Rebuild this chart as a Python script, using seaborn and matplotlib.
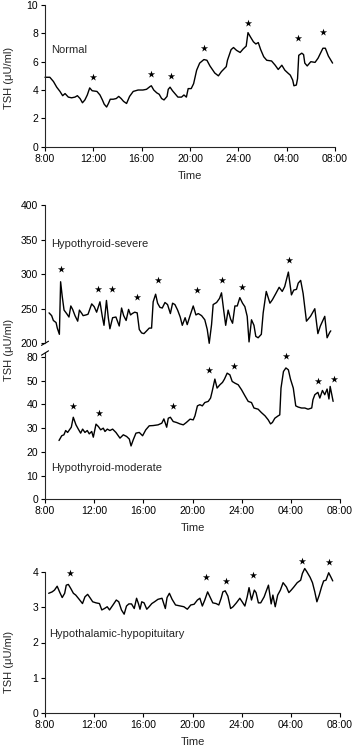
import seaborn as sns
import matplotlib.pyplot as plt
import numpy as np

sns.set_style("ticks")
plt.rcParams['font.family'] = ['Liberation Sans', 'DejaVu Sans']
plt.rcParams['axes.linewidth'] = 0.8
plt.rcParams['xtick.major.width'] = 0.8
plt.rcParams['ytick.major.width'] = 0.8
plt.rcParams['xtick.major.size'] = 3
plt.rcParams['ytick.major.size'] = 3

# hours after 8:00
time_ticks = [0, 4, 8, 12, 16, 20, 24]
time_labels = ["8:00", "12:00", "16:00", "20:00", "24:00", "04:00", "08:00"]

# Normal
normal_t = [0, 0.4, 0.7, 0.97, 1.24, 1.46, 1.66, 1.93, 2.2, 2.48, 2.68, 2.9, 3.1, 3.3, 3.5, 3.7,
            3.9, 4.3, 4.55, 4.75, 4.9, 5.1, 5.25, 5.4, 5.65, 5.9, 6.1, 6.3, 6.5, 6.75, 7.0, 7.3,
            7.7, 8.1, 8.4, 8.7, 8.8, 9.0, 9.25, 9.45, 9.65, 9.85, 10.1, 10.2, 10.35, 10.55, 10.75,
            11.0, 11.3, 11.5, 11.7, 11.85, 12.1, 12.3, 12.55, 12.8, 13.15, 13.4, 13.65, 14.05,
            14.35, 14.6, 15.0, 15.1, 15.4, 15.6, 15.85, 16.15, 16.4, 16.65, 16.8, 17.0, 17.25,
            17.45, 17.65, 17.85, 18.1, 18.35, 18.75, 19.05, 19.3, 19.6, 19.85, 20.1, 20.3, 20.5,
            20.6, 20.8, 20.9, 21.0, 21.25, 21.4, 21.5, 21.7, 22.0, 22.35, 22.6, 23.0, 23.2,
            23.45, 23.8]
normal_tsh = [4.9, 4.9, 4.6, 4.2, 3.9, 3.6, 3.75, 3.5, 3.45, 3.5, 3.6, 3.4, 3.1, 3.3, 3.65, 4.15,
              3.95, 3.9, 3.65, 3.3, 3.0, 2.8, 3.05, 3.35, 3.35, 3.4, 3.55, 3.4, 3.2, 3.05, 3.55, 3.9,
              4.0, 4.0, 4.05, 4.25, 4.3, 4.0, 3.8, 3.7, 3.4, 3.3, 3.55, 4.05, 4.2, 3.95, 3.75,
              3.5, 3.5, 3.65, 3.5, 4.1, 4.1, 4.45, 5.4, 5.9, 6.15, 6.1, 5.7, 5.2,
              5.0, 5.3, 5.65, 6.1, 6.85, 7.0, 6.8, 6.65, 6.9, 7.1, 8.05, 7.75, 7.4,
              7.25, 7.35, 6.85, 6.35, 6.1, 6.05, 5.75, 5.45, 5.75, 5.4, 5.2, 5.05, 4.7,
              4.3, 4.35, 4.8, 6.45, 6.6, 6.5, 5.9, 5.7, 6.0, 5.95, 6.25, 6.95, 6.95,
              6.4, 5.9]
normal_star_t = [4.0, 8.77, 10.4, 13.15, 16.8, 20.95, 23.0]
normal_star_y = [4.9, 5.13, 5.0, 6.95, 8.75, 7.65, 8.1]

# Hypothyroid-severe
severe_t = [0.33, 0.54, 0.68, 0.9, 1.0, 1.17, 1.27, 1.4, 1.55, 1.76, 1.95, 2.1, 2.25, 2.44, 2.66,
            2.8, 3.0, 3.1, 3.33, 3.5, 3.8, 4.0, 4.2, 4.47, 4.66, 4.8, 5.0, 5.15, 5.28, 5.5, 5.77,
            6.04, 6.23, 6.4, 6.6, 6.8, 6.96, 7.1, 7.3, 7.5, 7.67, 7.86, 8.05, 8.27, 8.48, 8.67,
            8.8, 9.0, 9.16, 9.35, 9.54, 9.76, 9.97, 10.2, 10.38, 10.57, 10.79, 11.0, 11.17, 11.4,
            11.57, 11.8, 12.06, 12.28, 12.47, 12.74, 13.0, 13.2, 13.36, 13.55, 13.68, 13.96, 14.2,
            14.36, 14.55, 14.7, 14.9, 15.1, 15.26, 15.45, 15.64, 15.85, 16.07, 16.26, 16.45, 16.6,
            16.8, 17.0, 17.15, 17.34, 17.6, 17.75, 18.0, 18.3, 18.5, 18.78, 19.05, 19.3, 19.5,
            19.8, 20.05, 20.24, 20.46, 20.6, 20.8, 21.0, 21.27, 21.6, 21.95, 22.2, 22.4, 22.76,
            22.95, 23.17, 23.25]
severe_tsh = [244, 240, 233, 230, 222, 213, 289, 268, 248, 243, 238, 254, 249, 240, 232,
              248, 243, 240, 241, 242, 257, 253, 245, 260, 239, 226, 262, 237, 221, 237, 238,
              225, 251, 240, 233, 249, 241, 243, 245, 244, 220, 215, 214, 218, 222, 222,
              260, 271, 258, 252, 251, 259, 256, 243, 258, 256, 248, 238, 226, 237,
              227, 240, 254, 241, 243, 240, 234, 220, 200, 227, 256, 259, 265,
              273, 246, 226, 248, 235, 229, 254, 254, 266, 258, 253, 239, 202,
              234, 226, 210, 208, 213, 244, 275, 258, 263, 272, 281, 275, 282,
              303, 270, 277, 278, 287, 291, 272, 232, 239, 250, 214, 225, 239,
              208, 216, 218]
severe_star_t = [1.27, 4.28, 5.42, 7.5, 9.2, 12.4, 14.36, 16.0, 19.84]
severe_star_y = [307, 278, 278, 267, 291, 277, 291, 281, 320]

# Hypothyroid-moderate
moderate_t = [1.14, 1.36, 1.54, 1.68, 1.84, 2.03, 2.14, 2.3, 2.52, 2.71, 2.9, 3.06, 3.25, 3.44,
              3.6, 3.8, 3.93, 4.15, 4.34, 4.53, 4.74, 4.88, 5.07, 5.28, 5.5, 5.77, 6.1, 6.37,
              6.64, 6.86, 7.0, 7.18, 7.4, 7.67, 7.94, 8.2, 8.48, 8.8, 9.2, 9.5, 9.67, 9.9, 10.03,
              10.2, 10.43, 10.7, 10.98, 11.25, 11.5, 11.8, 12.06, 12.2, 12.4, 12.6, 12.8, 13.0,
              13.28, 13.47, 13.6, 13.82, 14.0, 14.23, 14.44, 14.6, 14.82, 15.04, 15.23, 15.45,
              15.72, 15.99, 16.26, 16.53, 16.8, 17.0, 17.34, 17.6, 17.9, 18.16, 18.35, 18.5,
              18.7, 18.97, 19.1, 19.2, 19.4, 19.6, 19.8, 19.97, 20.2, 20.4, 20.6, 20.87, 21.14,
              21.4, 21.7, 21.8, 21.95, 22.2, 22.36, 22.57, 22.76, 22.95, 23.1, 23.2, 23.44]
moderate_tsh = [24.8, 26.8, 27.2, 29.0, 28.2, 29.6, 30.4, 34.6, 31.4, 29.6, 27.9, 29.6, 28.2, 29.0,
                27.6, 28.6, 26.2, 31.7, 30.7, 29.3, 30.0, 28.6, 29.6, 29.0, 29.6, 28.2, 25.8, 27.2,
                26.5, 25.4, 22.5, 25.1, 27.9, 28.2, 26.8, 29.3, 31.0, 31.1, 31.4, 32.1, 33.9, 30.4, 34.2,
                34.6, 32.8, 32.4, 31.8, 31.4, 32.4, 33.8, 33.5, 35.2, 39.4, 39.9, 39.4, 40.8,
                41.3, 42.7, 45.5, 50.7, 46.9, 48.3, 49.3, 50.7, 53.2, 52.5, 49.7, 49.0,
                48.3, 46.2, 43.7, 41.3, 40.8, 38.5, 38.0, 36.6, 35.2, 33.5, 31.8, 32.4,
                34.2, 35.2, 35.6, 46.9, 53.9, 55.4, 54.6, 50.7, 46.9, 39.4, 38.9, 38.5, 38.5,
                38.0, 38.5, 42.0, 44.1, 45.1, 42.7, 45.9, 44.1, 46.5, 42.3, 47.6, 41.3]
moderate_star_t = [2.3, 4.42, 10.38, 13.36, 15.4, 19.6, 22.2, 23.5]
moderate_star_y = [39.4, 36.3, 39.2, 54.4, 56.3, 60.3, 50.0, 50.7]

# Hypothalamic-hypopituitary
hypo_t = [0.3, 0.58, 0.77, 0.99, 1.21, 1.4, 1.6, 1.73, 1.9, 2.09, 2.31, 2.5, 2.78, 3.05, 3.25,
          3.47, 3.69, 3.88, 4.15, 4.43, 4.62, 4.84, 5.06, 5.25, 5.53, 5.8, 6.0, 6.22, 6.44, 6.63,
          6.82, 7.04, 7.26, 7.45, 7.6, 7.73, 7.87, 8.06, 8.28, 8.47, 8.69, 8.91, 9.19, 9.52, 9.79,
          9.93, 10.12, 10.34, 10.62, 11.03, 11.3, 11.58, 11.86, 12.13, 12.4, 12.6, 12.8, 13.0,
          13.23, 13.42, 13.65, 13.92, 14.14, 14.33, 14.47, 14.66, 14.88, 15.1, 15.3, 15.57,
          15.85, 16.04, 16.26, 16.45, 16.6, 16.8, 17.03, 17.17, 17.36, 17.55, 17.83, 18.05,
          18.18, 18.4, 18.54, 18.73, 18.93, 19.15, 19.37, 19.64, 19.84, 20.03, 20.25, 20.52,
          20.8, 20.94, 21.13, 21.3, 21.57, 21.76, 21.95, 22.12, 22.31, 22.5, 22.67, 22.86,
          23.08, 23.27, 23.41]
hypo_tsh = [3.39, 3.43, 3.48, 3.59, 3.41, 3.27, 3.39, 3.62, 3.64, 3.53, 3.39, 3.34, 3.22, 3.1, 3.29,
            3.36, 3.25, 3.15, 3.12, 3.1, 2.92, 2.96, 3.01, 2.92, 3.06, 3.2, 3.15, 2.92, 2.8, 3.03,
            3.09, 3.09, 2.96, 3.25, 3.1, 2.94, 3.15, 3.12, 2.94, 3.01, 3.1, 3.15, 3.22, 3.25, 2.96,
            3.27, 3.39, 3.22, 3.06, 3.03, 3.01, 2.94, 3.06, 3.08, 3.2, 3.25, 3.03, 3.2,
            3.43, 3.29, 3.12, 3.1, 3.06, 3.25, 3.43, 3.46, 3.31, 2.96, 3.01, 3.12,
            3.25, 3.15, 3.03, 3.29, 3.55, 3.2, 3.48, 3.41, 3.12, 3.12, 3.29, 3.5,
            3.62, 3.09, 3.34, 3.01, 3.34, 3.48, 3.69, 3.57, 3.41, 3.48, 3.57, 3.69,
            3.76, 3.95, 4.09, 4.0, 3.84, 3.69, 3.43, 3.15, 3.34, 3.57, 3.74, 3.76,
            3.97, 3.84, 3.74]
hypo_star_t = [2.0, 13.1, 14.7, 16.9, 20.9, 23.1]
hypo_star_y = [3.95, 3.84, 3.74, 3.9, 4.31, 4.28]

W, H = 352, 750
fig = plt.figure(figsize=(W / 100, H / 100), dpi=100)


def box(left, top, right, bottom):
    return [left / W, 1 - bottom / H, (right - left) / W, (bottom - top) / H]


ax1 = fig.add_axes(box(45, 5, 335, 146.7))
ax2a = fig.add_axes(box(45, 205, 340, 343.3))
ax2b = fig.add_axes(box(45, 353, 340, 499.3))
ax3 = fig.add_axes(box(45, 571.7, 340, 713.3))

tick_fs = 7.5
label_fs = 8


def trace(ax, t, y, st, sy):
    sns.lineplot(x=t, y=y, ax=ax, color="black", lw=1.0, estimator=None, sort=False,
                 clip_on=False)
    sns.scatterplot(x=st, y=sy, ax=ax, color="black", marker="*", s=30, linewidth=0,
                    clip_on=False)


trace(ax1, normal_t, normal_tsh, normal_star_t, normal_star_y)
trace(ax2a, severe_t, severe_tsh, severe_star_t, severe_star_y)
trace(ax2b, moderate_t, moderate_tsh, moderate_star_t, moderate_star_y)
trace(ax3, hypo_t, hypo_tsh, hypo_star_t, hypo_star_y)

for ax in [ax1, ax2a, ax2b, ax3]:
    ax.set_xlim(0, 24)
    ax.set_xticks(time_ticks)
    ax.set_xticklabels(time_labels, fontsize=tick_fs)
    ax.tick_params(axis="both", labelsize=tick_fs, pad=2, colors="black")
    sns.despine(ax=ax)
    ax.set_xlabel("")
    ax.set_ylabel("")

ax1.set_ylim(0, 10)
ax1.set_yticks([0, 2, 4, 6, 8, 10])
ax1.set_xlabel("Time", fontsize=label_fs, labelpad=5)

ax2a.set_ylim(200, 400)
ax2a.set_yticks([200, 250, 300, 350, 400])
ax2a.spines["bottom"].set_visible(False)
ax2a.tick_params(axis="x", bottom=False, labelbottom=False)

ax2b.set_ylim(0, 61.7)
ax2b.set_yticks([0, 10, 20, 30, 40, 50, 60])
ax2b.set_yticklabels(["0", "10", "20", "30", "40", "50", "80"])
ax2b.set_xlabel("Time", fontsize=label_fs, labelpad=5)

ax3.set_ylim(0, 4)
ax3.set_yticks([0, 1, 2, 3, 4])
ax3.set_xlabel("Time", fontsize=label_fs, labelpad=5)

# axis break marks
for ax, yy in [(ax2a, 0.0), (ax2b, 1.0)]:
    ax.plot([-0.012, 0.012], [yy - 0.015, yy + 0.015], transform=ax.transAxes,
            color="black", lw=0.8, clip_on=False)

ax1.text(0.47, 6.8, "Normal", fontsize=label_fs, va="center")
ax2a.text(0.47, 343, "Hypothyroid-severe", fontsize=label_fs, va="center")
ax2b.text(0.47, 13.1, "Hypothyroid-moderate", fontsize=label_fs, va="center")
ax3.text(0.3, 2.24, "Hypothalamic-hypopituitary", fontsize=label_fs, va="center")

for yc in [78, 350, 662]:
    fig.text(9 / W, 1 - yc / H, "TSH (\u03bcU/ml)", rotation=90, fontsize=label_fs,
             ha="center", va="center")

fig.savefig("out.png", dpi=100)
